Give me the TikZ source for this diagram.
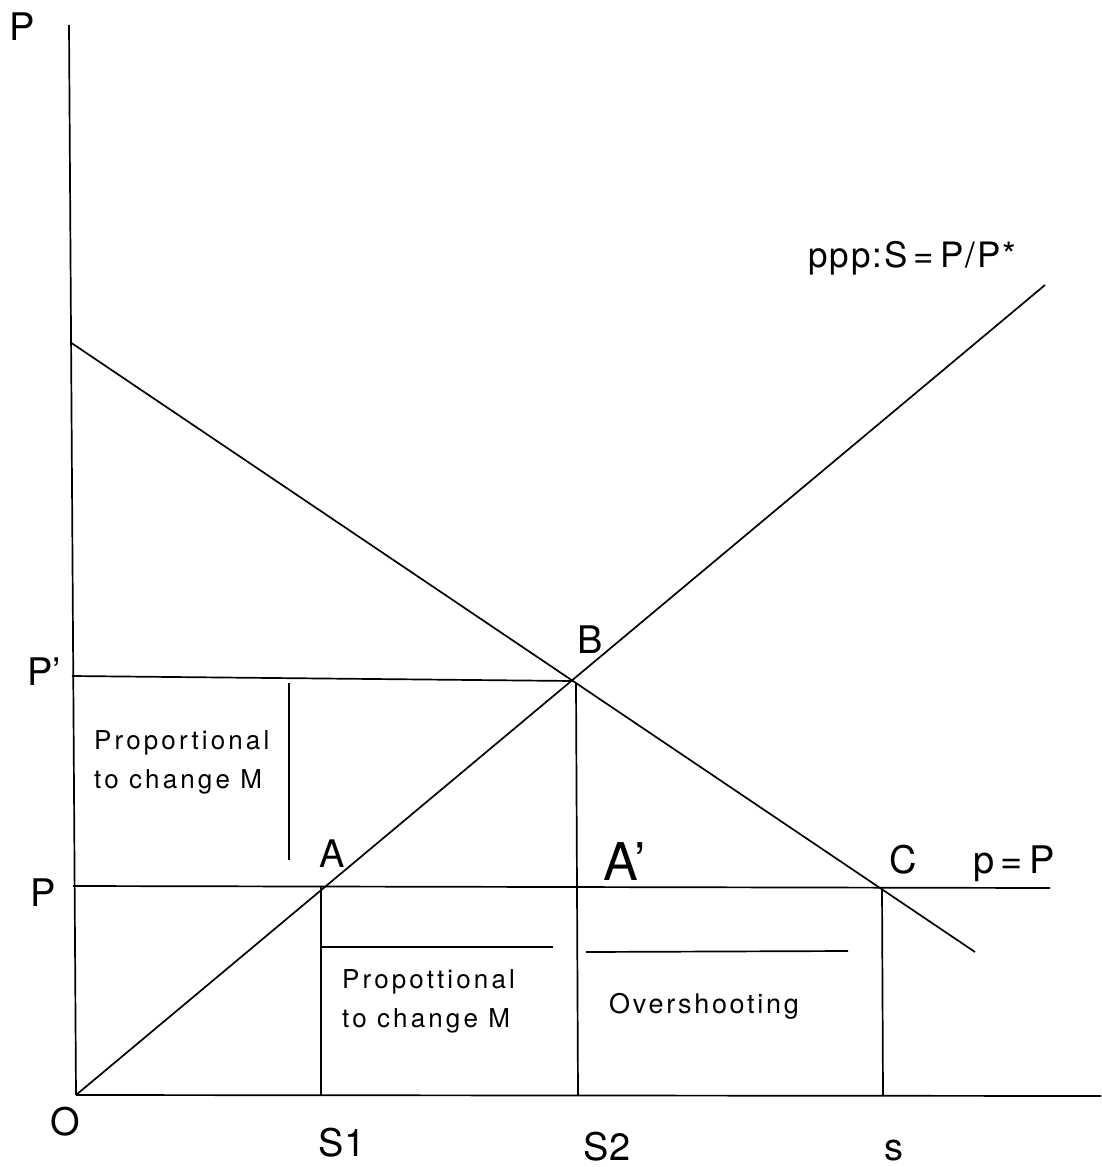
\documentclass[tikz,border=0pt]{standalone}
\usepackage{fontspec}
\setmainfont{TeX Gyre Heros}
\begin{document}
\begin{tikzpicture}[x=1pt,y=-1pt,
  ln/.style={line width=1.7pt,black},
  lab/.style={inner sep=0pt,font=\fontsize{38}{40}\selectfont},
  txt/.style={inner sep=0pt,anchor=base west,font=\fontsize{26}{39}\selectfont\addfontfeature{LetterSpace=12},align=left}]
\useasboundingbox (0,0) rectangle (1101,1167);
% points
\coordinate (ytop) at (69,25);
\coordinate (O) at (76,1095);
\coordinate (xend) at (1101,1096);
\coordinate (d1) at (70,342);
\coordinate (d2) at (975,952);
\coordinate (pppend) at (1045,285);
\coordinate (B) at (573,681);
\coordinate (A) at (321,887);
\coordinate (C) at (882,888);
\coordinate (ppl) at (72,676);
\coordinate (pl) at (73,886);
\coordinate (pr) at (1050,888);
\coordinate (S1) at (321,1095);
\coordinate (S2) at (578,1095);
\coordinate (Ss) at (883,1095);
\coordinate (Bd) at (576,684);
\coordinate (v1) at (289,683);
\coordinate (v2) at (289,860);
\coordinate (h1a) at (321,947);
\coordinate (h1b) at (553,947);
\coordinate (h2a) at (586,952);
\coordinate (h2b) at (848,951);
% axes
\draw[ln] (ytop) -- (O);
\draw[ln] (O) -- (xend);
% curves
\draw[ln] (d1) -- (d2);
\draw[ln] (O) -- (pppend);
% horizontals
\draw[ln] (ppl) -- (B);
\draw[ln] (pl) -- (pr);
% verticals
\draw[ln] (A) -- (S1);
\draw[ln] (Bd) -- (S2);
\draw[ln] (C) -- (Ss);
\draw[ln] (v1) -- (v2);
\draw[ln] (h1a) -- (h1b);
\draw[ln] (h2a) -- (h2b);
% labels
\node[lab] (lP) at (22,27) {P};
\node[lab,anchor=base west] (lPp) at (27,685) {P’};
\node[lab] (lP2) at (43,893) {P};
\node[lab] (lO) at (65,1122) {O};
\node[lab] (lS1) at (342,1143) {S1};
\node[lab] (lS2) at (607,1147) {S2};
\node[lab,anchor=base] (ls) at (894,1160) {s};
\node[lab,anchor=base west] (lA) at (319,867) {A};
\node[lab,anchor=base west,font=\fontsize{52}{54}\selectfont] (lAp) at (603,880) {A’};
\node[lab,anchor=base west] (lB) at (577,653) {B};
\node[lab,anchor=base west] (lC) at (889,873) {C};
\node[lab,anchor=base west] (lpP) at (973,873) {p\,=\,P};
\node[lab,anchor=base west,font=\fontsize{35}{37}\selectfont\addfontfeature{LetterSpace=6}] (lppp) at (808,267) {ppp:S\,=\,P/P*};
\node[txt] (t1) at (94,788) {Proportional\\to change M};
\node[txt] (t2) at (342,1027) {Propottional\\to change M};
\node[txt,font=\fontsize{27}{30}\selectfont\addfontfeature{LetterSpace=10}] (t3) at (609,1013) {Overshooting};
\end{tikzpicture}
\end{document}
